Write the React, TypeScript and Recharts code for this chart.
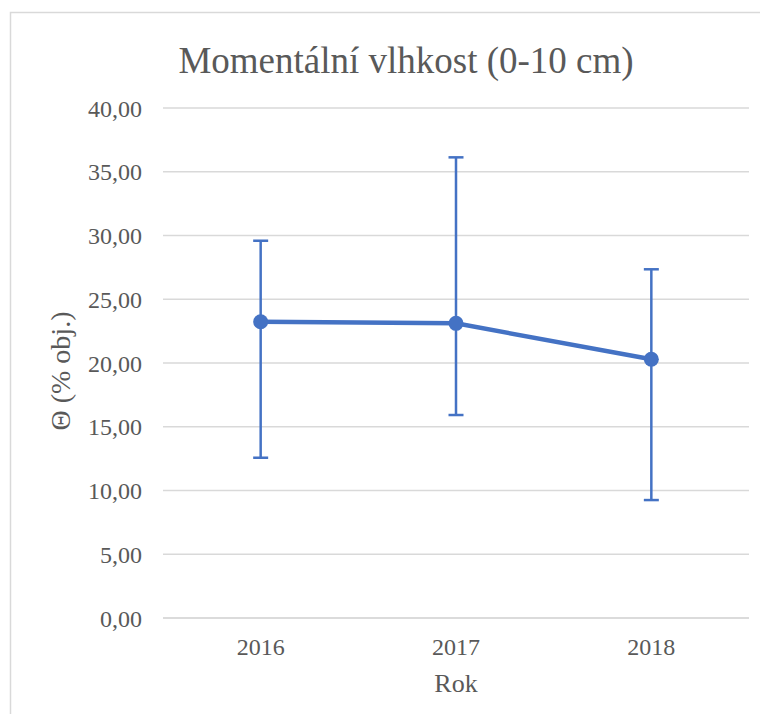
import { LineChart, Line, XAxis, YAxis, CartesianGrid, ErrorBar } from "recharts";

const years = ["2016", "2017", "2018"];
const means = [23.24, 23.11, 20.29];
const lows = [12.57, 15.92, 9.25];
const highs = [29.59, 36.13, 27.35];
const yTicks = [0, 5, 10, 15, 20, 25, 30, 35, 40];

const data = years.map((year, i) => ({
  year,
  value: means[i],
  err: [means[i] - lows[i], highs[i] - means[i]],
}));

const BLUE = "#4472C4";
const TEXT = "#595959";
const GRID = "#d9d9d9";
const FONT = "'Liberation Serif', 'Times New Roman', serif";

const fmt = (v: number) => v.toFixed(2).replace(".", ",");

export default function App() {
  return (
    <div style={{ position: "relative", width: 768, height: 722, margin: -8, overflow: "hidden", background: "#fff" }}>
      <svg width={768} height={722} style={{ position: "absolute", left: 0, top: 0 }}>
        <rect x={10.5} y={12.5} width={900} height={900} fill="none" stroke={GRID} strokeWidth={1.5} />
        <text x={406} y={73} textAnchor="middle" fill={TEXT} fontSize={37} fontFamily={FONT}>
          Momentální vlhkost (0-10 cm)
        </text>
      </svg>
      <div style={{ position: "absolute", left: 0, top: 0 }}>
        <LineChart
          width={768}
          height={722}
          data={data}
          margin={{ top: 108, right: 19, bottom: 0, left: 0 }}
          style={{ fontFamily: FONT }}
        >
          <CartesianGrid vertical={false} stroke={GRID} strokeWidth={1.5} />
          <XAxis
            dataKey="year"
            scale="band"
            height={104}
            tickLine={false}
            tickSize={0}
            tickMargin={20}
            axisLine={{ stroke: GRID, strokeWidth: 1.5 }}
            tick={{ fill: TEXT, fontSize: 24, fontFamily: FONT }}
            label={{
              content: ({ viewBox }: any) => (
                <text
                  x={viewBox.x + viewBox.width / 2}
                  y={viewBox.y + 74}
                  textAnchor="middle"
                  fill={TEXT}
                  fontSize={26}
                  fontFamily={FONT}
                >
                  Rok
                </text>
              ),
            }}
          />
          <YAxis
            width={163}
            domain={[0, 40]}
            ticks={yTicks}
            tickFormatter={fmt}
            axisLine={false}
            tickLine={false}
            tickSize={0}
            tickMargin={21}
            tick={{ fill: TEXT, fontSize: 24, fontFamily: FONT }}
            label={{
              content: ({ viewBox }: any) => {
                const cx = 70;
                const cy = viewBox.y + viewBox.height / 2 + 8;
                return (
                  <text
                    x={cx}
                    y={cy}
                    transform={`rotate(-90, ${cx}, ${cy})`}
                    textAnchor="middle"
                    fill={TEXT}
                    fontSize={28}
                    fontFamily={FONT}
                  >
                    Θ (% obj.)
                  </text>
                );
              },
            }}
          />
          <Line
            dataKey="value"
            stroke={BLUE}
            strokeWidth={4.5}
            dot={{ r: 7.5, fill: BLUE, stroke: BLUE, strokeWidth: 0 }}
            activeDot={false}
            isAnimationActive={false}
          >
            <ErrorBar dataKey="err" direction="y" width={7.5} stroke={BLUE} strokeWidth={2.5} />
          </Line>
        </LineChart>
      </div>
    </div>
  );
}
